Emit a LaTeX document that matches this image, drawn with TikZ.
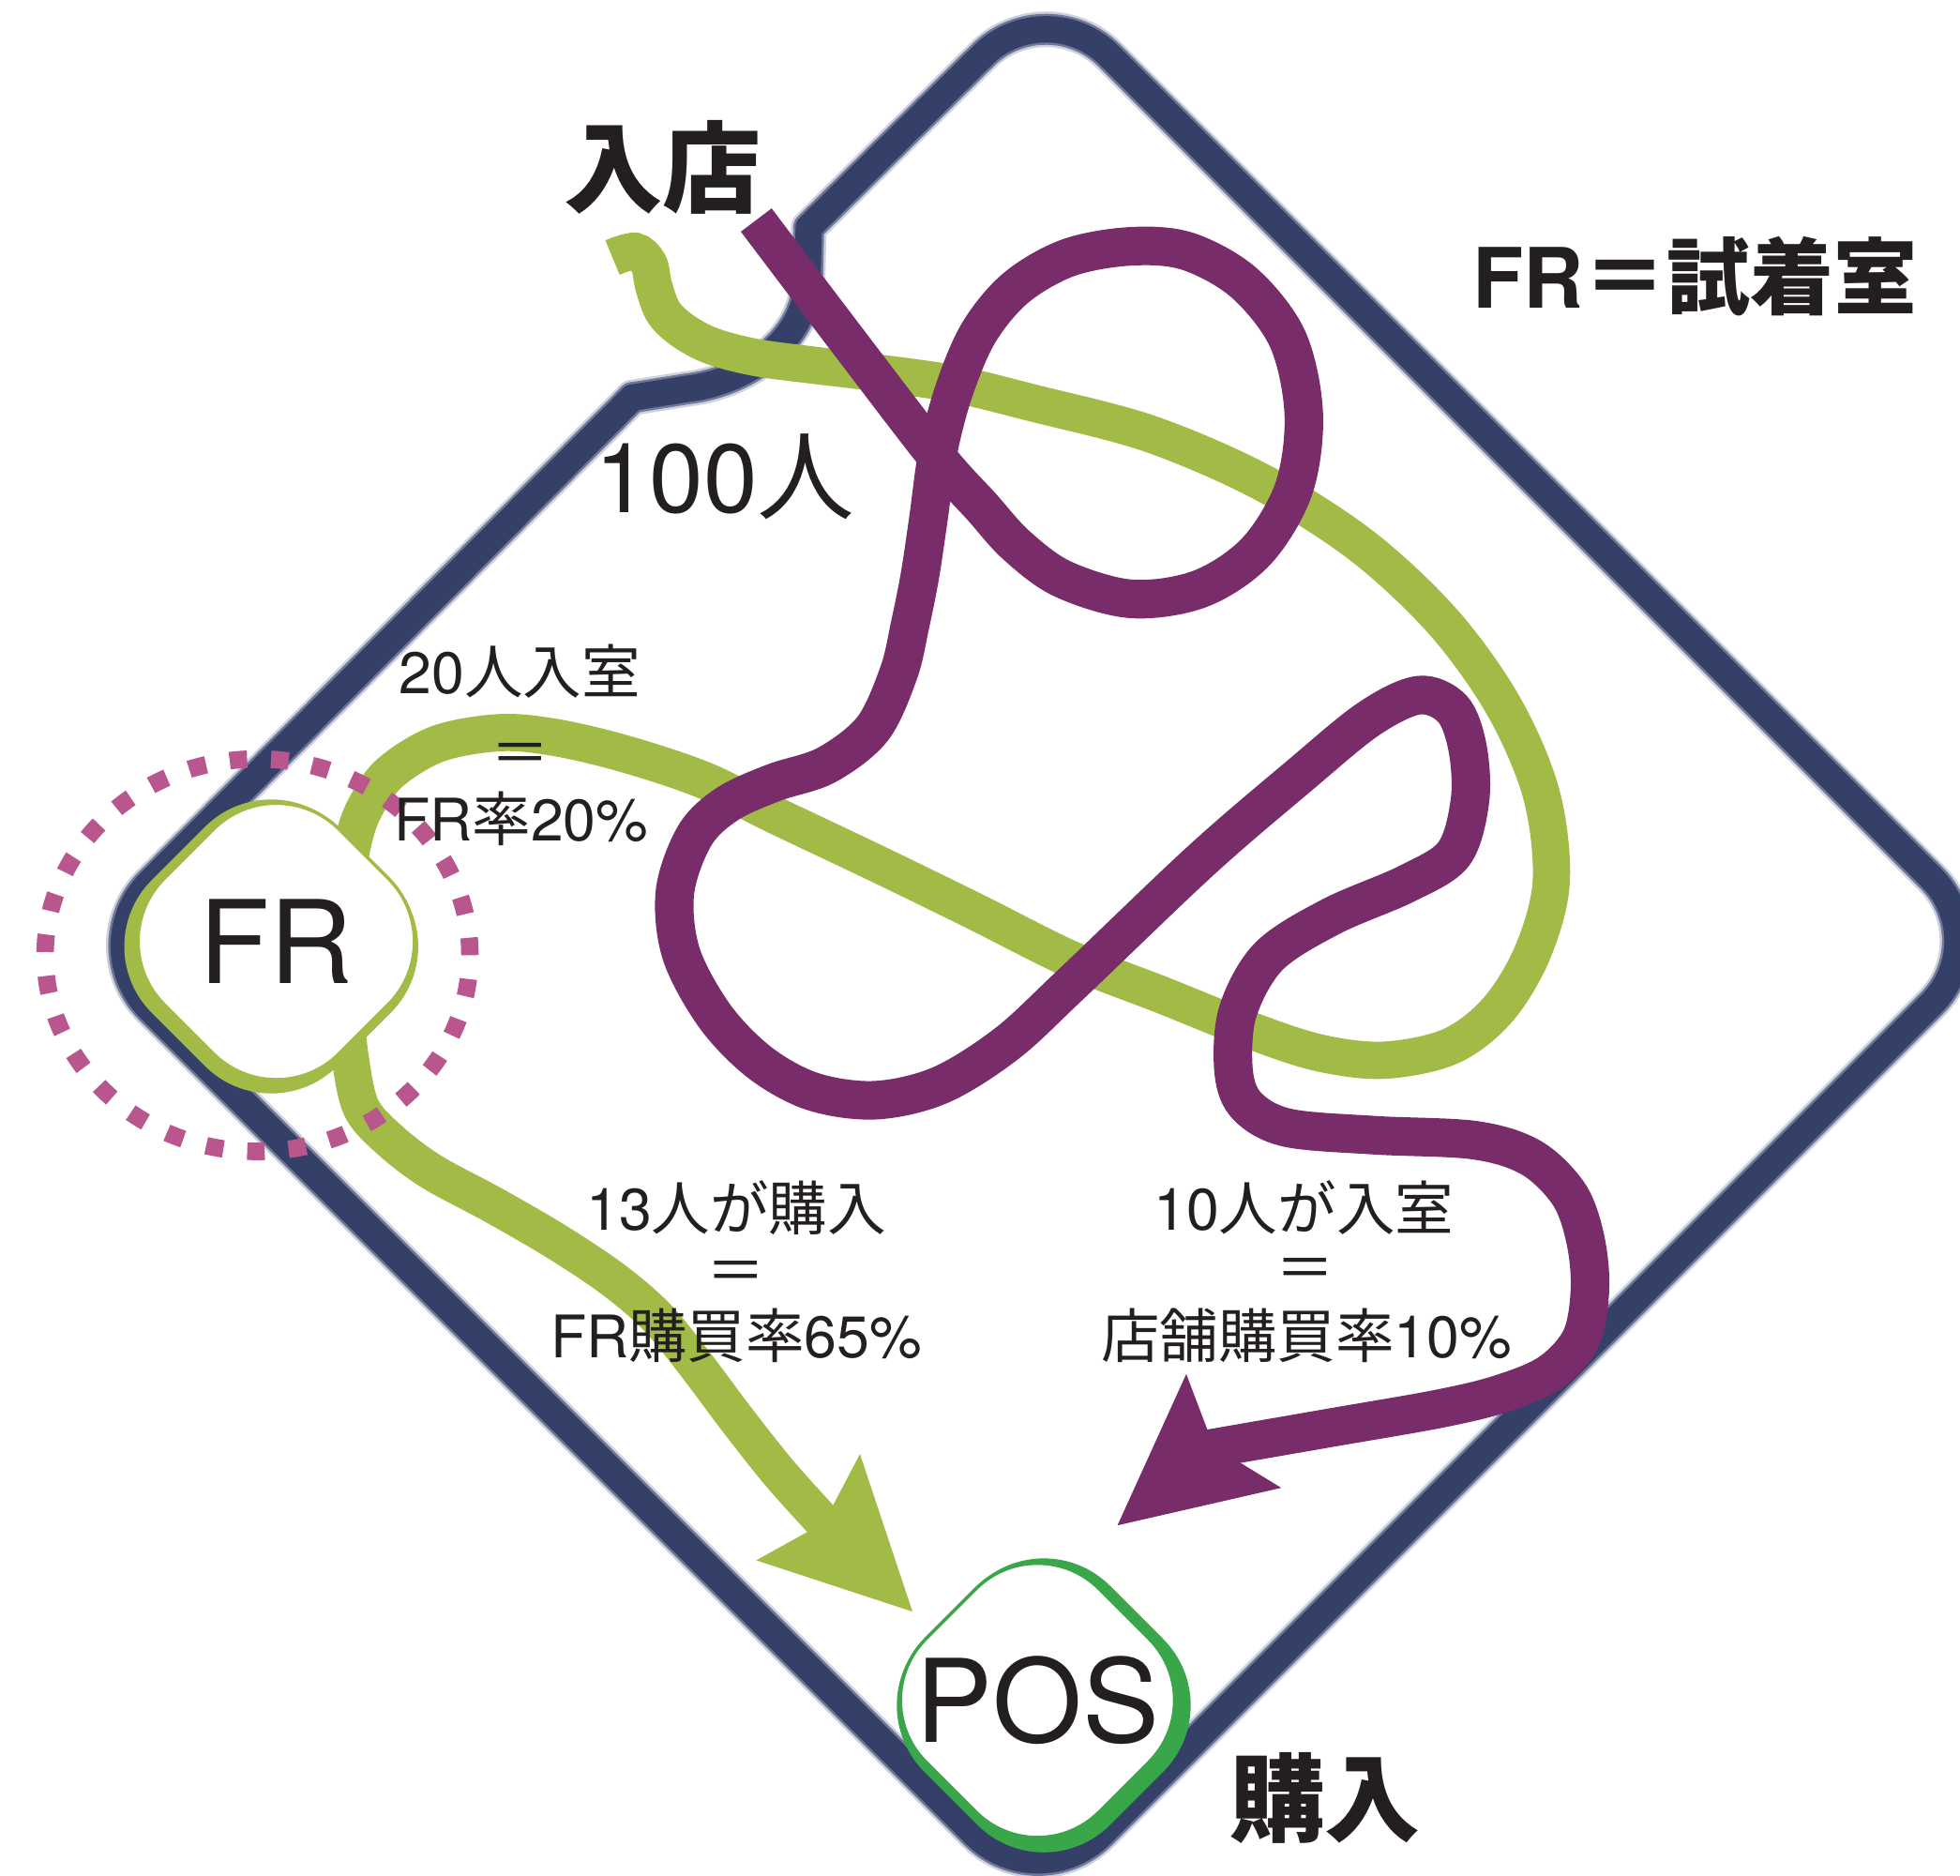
\documentclass[tikz,border=0pt]{standalone}
\usepackage{fontspec}
\setmainfont{TeX Gyre Heros}
\newfontfamily\cjk{Noto Sans CJK JP}
\usetikzlibrary{shapes.geometric}
\definecolor{navy}{RGB}{52,64,104}
\definecolor{navysoftA}{RGB}{205,209,222}
\definecolor{navysoftB}{RGB}{112,120,152}
\definecolor{lgreen}{RGB}{162,187,70}
\definecolor{posgreen}{RGB}{58,166,74}
\definecolor{purp}{RGB}{121,44,106}
\definecolor{dotpink}{RGB}{185,86,142}
\definecolor{txt}{RGB}{35,31,32}
\newcommand{\shopoutline}[1]{%
  \draw[#1, rounded corners=0.95cm] (742,88) -- (837,-6) -- (1595.5,752.5) -- (830.5,1517.5) -- (69.5,756.5) -- (506,318);
  \draw[#1] (506,318) -- (550,311) .. controls (600,305) and (645,270) .. (646,225) -- (647,182) -- (742,88);
}
\begin{document}
\begin{tikzpicture}[x=0.01333cm,y=-0.01333cm,
  haloA/.style={draw=navysoftA, line width=10.8pt, line join=round, line cap=round},
  haloB/.style={draw=navysoftB, line width=9.4pt, line join=round, line cap=round},
  coreline/.style={draw=navy, line width=8.0pt, line join=round, line cap=round},
  gpath/.style={draw=lgreen, line width=11.3pt},
  ppath/.style={draw=purp, line width=11.7pt},
  lbl/.style={text=txt, inner sep=0pt, outer sep=0pt},
  midlbl/.style={lbl, font=\fontsize{17.8}{20}\selectfont},
  bigcjk/.style={lbl, font=\fontsize{30}{34}\selectfont\cjk\bfseries},
  roomback/.style={diamond, inner sep=0pt, minimum width=3.97cm, minimum height=3.97cm, rounded corners=1.0cm},
  roomfront/.style={diamond, inner sep=0pt, fill=white, text=txt, font=\fontsize{35}{40}\selectfont}
]
\fill[white] (0,0) rectangle (1568,1500);
\useasboundingbox (0,0) rectangle (1568,1500);

% store outline (soft edged)
\shopoutline{haloA}
\shopoutline{haloB}
\shopoutline{coreline}

% named end points
\coordinate (gstart) at (490,206);
\coordinate (g1end) at (279,702);
\coordinate (g2start) at (277,812);
\coordinate (g2end) at (663,1222);
\coordinate (pstart) at (605,176);
\coordinate (pend) at (966,1159);

% green path: entrance -> fitting room
\draw[gpath] plot[smooth, tension=0.55] coordinates {(gstart) (508,201) (519,211) (523,229) (531,250) (547,265) (570,277) (605,286) (650,292) (700,298) (763,307) (825,322) (920,347) (1010,386) (1090,437) (1155,498) (1203,565) (1233,635) (1241,705) (1226,762) (1198,808) (1160,837) (1107,848) (1055,842) (1000,824) (930,796) (856,767) (780,729) (700,690) (620,652) (563,624) (500,603) (445,590) (400,586) (350,595) (311,619) (290,650) (281,680) (g1end)};
% green path: fitting room -> POS
\draw[gpath] plot[smooth, tension=0.55] coordinates {(g2start) (280,845) (289,886) (312,912) (345,937) (395,964) (445,993) (490,1023) (525,1053) (557,1092) (590,1136) (625,1180) (g2end)};
\fill[lgreen] (730,1289) -- (605,1248) -- (659,1218) -- (688,1163) -- cycle;

% purple path: entrance -> POS
\draw[ppath] plot[smooth, tension=0.55] coordinates {(pstart) (680,275) (750,366) (785,405) (813,436) (850,463) (905,479) (960,471) (1005,441) (1035,391) (1043,331) (1030,271) (995,226) (950,201) (905,197) (855,206) (813,230) (783,266) (763,313) (750,363) (743,413) (736,460) (728,500) (719,538) (698,583) (661,612) (619,626) (582,643) (556,668) (540,713) (545,763) (572,813) (608,850) (650,873) (700,880) (752,868) (805,835) (856,788) (961,688) (1040,620) (1095,575) (1135,556) (1162,567) (1174,598) (1176,640) (1163,683) (1125,707) (1065,733) (1015,765) (990,810) (987,858) (998,885) (1030,902) (1100,908) (1180,912) (1225,926) (1255,955) (1268,990) (1272,1030) (1265,1070) (1240,1098) (1200,1115) (1150,1127) (1064,1142) (pend)};
\fill[purp] (894,1220) -- (949,1099) -- (971,1157) -- (1025,1190) -- cycle;

% fitting room node
\node[roomback, fill=lgreen] (FRback) at (217,757) {};
\node[roomfront, draw=lgreen, line width=1pt, minimum width=3.75cm, minimum height=3.75cm, rounded corners=0.95cm] (FR) at (221,753) {FR};

% POS node
\node[roomback, fill=posgreen] (POSback) at (835,1364) {};
\node[roomfront, draw=posgreen, line width=1pt, minimum width=3.71cm, minimum height=3.71cm, rounded corners=0.93cm] (POS) at (830,1360) {POS};

% dotted ring around FR
\draw[dotpink, line width=5.3pt, dash pattern=on 0.1867cm off 0.2553cm] (206,764) ellipse [x radius=2.266cm, y radius=2.093cm];

% labels
\node[bigcjk] (nyuten) at (530,134) {入店};
\node[lbl, font=\fontsize{25.3}{30}\selectfont\bfseries] (legend) at (1356,221) {FR{\cjk ＝試着室}};
\node[lbl, font=\fontsize{29.5}{33}\selectfont] (hundred) at (580,381) {100{\cjk 人}};
\node[midlbl] (l1a) at (416,537) {20{\cjk 人入室}};
\node[midlbl] (l1b) at (416,607) {\cjk ＝};
\node[midlbl] (l1c) at (417,655) {FR{\cjk 率}20\%};
\node[midlbl] (l2a) at (589,966) {13{\cjk 人が購入}};
\node[midlbl] (l2b) at (589,1021) {\cjk ＝};
\node[midlbl] (l2c) at (589,1068) {FR{\cjk 購買率}65\%};
\node[midlbl] (l3a) at (1043,966) {10{\cjk 人が入室}};
\node[midlbl] (l3b) at (1044,1019) {\cjk ＝};
\node[midlbl] (l3c) at (1045,1068) {{\cjk 店舗購買率}10\%};
\node[lbl, font=\fontsize{29}{33}\selectfont\cjk\bfseries] (konyu) at (1060,1438) {購入};
\end{tikzpicture}
\end{document}
